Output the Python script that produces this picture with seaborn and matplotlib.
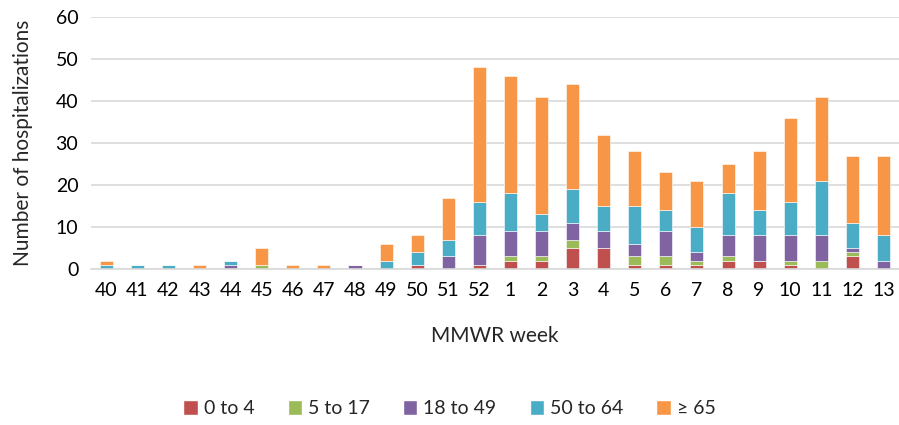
import numpy as np
import pandas as pd
import seaborn as sns
import matplotlib.pyplot as plt
from matplotlib.patches import Patch

sns.set_style('white')
plt.rcParams['font.family'] = ['Lato', 'DejaVu Sans']

weeks = ['40', '41', '42', '43', '44', '45', '46', '47', '48', '49', '50', '51', '52',
         '1', '2', '3', '4', '5', '6', '7', '8', '9', '10', '11', '12', '13']
age_0_4 =   [0, 0, 0, 0, 0, 0, 0, 0, 0, 0, 1, 0, 1, 2, 2, 5, 5, 1, 1, 1, 2, 2, 1, 0, 3, 0]
age_5_17 =  [0, 0, 0, 0, 0, 1, 0, 0, 0, 0, 0, 0, 0, 1, 1, 2, 0, 2, 2, 1, 1, 0, 1, 2, 1, 0]
age_18_49 = [0, 0, 0, 0, 1, 0, 0, 0, 1, 0, 0, 3, 7, 6, 6, 4, 4, 3, 6, 2, 5, 6, 6, 6, 1, 2]
age_50_64 = [1, 1, 1, 0, 1, 0, 0, 0, 0, 2, 3, 4, 8, 9, 4, 8, 6, 9, 5, 6, 10, 6, 8, 13, 6, 6]
age_65 =    [1, 0, 0, 1, 0, 4, 1, 1, 0, 4, 4, 10, 32, 28, 28, 25, 17, 13, 9, 11, 7, 14, 20, 20, 16, 19]

groups = ['0 to 4', '5 to 17', '18 to 49', '50 to 64', '\u2265 65']
colors = ['#C0504D', '#9BBB59', '#8064A2', '#4BACC6', '#F79646']

df = pd.DataFrame({'week': weeks, '0 to 4': age_0_4, '5 to 17': age_5_17,
                   '18 to 49': age_18_49, '50 to 64': age_50_64, '\u2265 65': age_65})

fig = plt.figure(figsize=(8.99, 4.25), dpi=100)
ax = fig.add_axes([0.101, 0.367, 0.899, 0.593])

bottom = np.zeros(len(df))
for g, c in zip(groups, colors):
    sns.barplot(data=df, x='week', y=g, order=weeks, color=c, width=0.42,
                bottom=bottom, ax=ax, saturation=1, edgecolor='white', linewidth=0.4)
    bottom = bottom + df[g].values

ax.set_ylim(0, 60)
ax.set_yticks(range(0, 61, 10))
ax.set_xlim(-0.5, len(weeks) - 0.5)
ax.yaxis.grid(True, color='#D9D9D9', linewidth=1.2)
ax.set_axisbelow(True)
for s in ['top', 'right', 'left']:
    ax.spines[s].set_visible(False)
ax.spines['bottom'].set_color('#D9D9D9')
ax.spines['bottom'].set_linewidth(1.2)
ax.tick_params(axis='both', length=0, labelsize=14, colors='black', pad=9)
ax.set_xlabel('MMWR week', fontsize=15, labelpad=20)
ax.set_ylabel('Number of hospitalizations', fontsize=15, labelpad=16)

handles = [Patch(facecolor=c, label=g) for g, c in zip(groups, colors)]
fig.legend(handles=handles, loc='center', bbox_to_anchor=(0.5, 0.038), ncol=5,
           frameon=False, fontsize=14, handlelength=0.75, handleheight=0.75,
           handletextpad=0.3, columnspacing=1.7)

fig.savefig('out.png', dpi=100)
